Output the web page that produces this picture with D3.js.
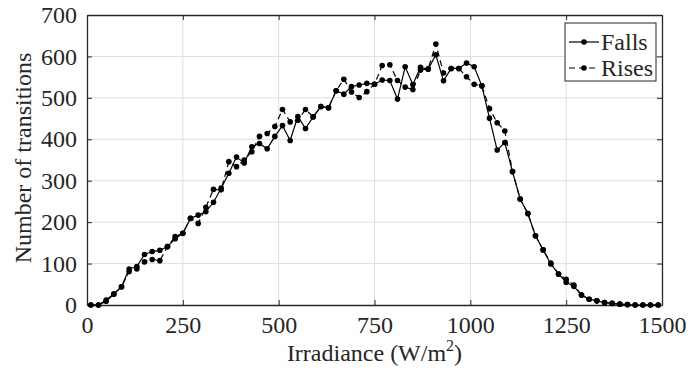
<!DOCTYPE html>
<html>
<head>
<meta charset="utf-8">
<script src="https://cdn.jsdelivr.net/npm/d3@7"></script>
<style>
  body { margin: 0; background: #fff; }
  text { font-family: "Liberation Serif", "Times New Roman", "DejaVu Serif", serif; fill: #262626; }
</style>
</head>
<body>
<div id="chart"></div>
<script>
// bin centres (W/m^2)
const irradiance = d3.range(75).map(i => 10 + i * 20);

const falls = [0, 0, 12, 27, 44, 87, 93, 122, 129, 132,
  141, 160, 173, 209, 217, 225, 248, 282, 318, 357,
  343, 382, 390, 377, 407, 433, 397, 455, 426, 454,
  479, 476, 517, 509, 527, 531, 535, 533, 543, 542,
  497, 575, 532, 574, 569, 604, 541, 571, 571, 584,
  575, 529, 451, 374, 392, 322, 256, 221, 167, 133,
  99, 75, 55, 45, 24, 14, 10, 6, 4, 2,
  1, 0, 0, 0, 0];

const rises = [0, 0, 9, 26, 44, 81, 87, 104, 110, 107,
  141, 165, 173, 209, 197, 236, 279, 278, 346, 334,
  350, 370, 407, 414, 431, 472, 442, 446, 472, 454,
  479, 476, 517, 545, 514, 501, 515, 533, 578, 580,
  542, 526, 520, 567, 570, 630, 560, 571, 571, 551,
  533, 529, 474, 440, 420, 322, 256, 221, 167, 133,
  101, 75, 62, 48, 24, 14, 10, 6, 4, 2,
  1, 0, 0, 0, 0];

const xTicks = [0, 250, 500, 750, 1000, 1250, 1500];
const yTicks = [0, 100, 200, 300, 400, 500, 600, 700];

const width = 692, height = 383;
const margin = {top: 15, right: 30, bottom: 78, left: 87};
const w = width - margin.left - margin.right;
const h = height - margin.top - margin.bottom;

const svg = d3.select("#chart").append("svg")
  .attr("width", width)
  .attr("height", height);

const g = svg.append("g")
  .attr("transform", `translate(${margin.left},${margin.top})`);

const x = d3.scaleLinear().domain([0, 1500]).range([0, w]);
const y = d3.scaleLinear().domain([0, 700]).range([h, 0]);

// grid
g.append("g").selectAll("line").data(xTicks.slice(1, -1)).enter().append("line")
  .attr("x1", d => x(d)).attr("x2", d => x(d))
  .attr("y1", 0).attr("y2", h)
  .style("stroke", "#dedede").style("stroke-width", 1);
g.append("g").selectAll("line").data(yTicks.slice(1, -1)).enter().append("line")
  .attr("x1", 0).attr("x2", w)
  .attr("y1", d => y(d)).attr("y2", d => y(d))
  .style("stroke", "#dedede").style("stroke-width", 1);

// axes, ticks inward
const fs = "24px";
const xAxis = g.append("g")
  .attr("transform", `translate(0,${h})`)
  .call(d3.axisBottom(x).tickValues(xTicks).tickFormat(d3.format("d"))
    .tickSizeInner(-5).tickSizeOuter(0).tickPadding(11));
const yAxis = g.append("g")
  .call(d3.axisLeft(y).tickValues(yTicks).tickFormat(d3.format("d"))
    .tickSizeInner(-5).tickSizeOuter(0).tickPadding(10));
g.append("g")
  .call(d3.axisTop(x).tickValues(xTicks).tickSizeInner(-5).tickSizeOuter(0).tickFormat(""));
g.append("g")
  .attr("transform", `translate(${w},0)`)
  .call(d3.axisRight(y).tickValues(yTicks).tickSizeInner(-5).tickSizeOuter(0).tickFormat(""));

g.selectAll(".domain").style("stroke", "#262626").style("stroke-width", 1.3);
g.selectAll(".tick line").style("stroke", "#262626");
g.selectAll("g").attr("font-family", null);
xAxis.selectAll("text").style("font-size", fs).style("fill", "#262626");
yAxis.selectAll("text").style("font-size", fs).style("fill", "#262626");

// axis labels
const xl = svg.append("text")
  .attr("x", margin.left + w / 2)
  .attr("y", 361)
  .style("text-anchor", "middle")
  .style("font-size", fs);
xl.append("tspan").text("Irradiance (W/m");
xl.append("tspan").attr("dy", -10).style("font-size", "16px").text("2");
xl.append("tspan").attr("dy", 10).text(")");

svg.append("text")
  .attr("transform", "rotate(-90)")
  .attr("x", -(margin.top + h / 2) + 2)
  .attr("y", 31)
  .style("text-anchor", "middle")
  .style("font-size", fs)
  .text("Number of transitions");

// series
const fallsData = irradiance.map((v, i) => ({x: v, y: falls[i]}));
const risesData = irradiance.map((v, i) => ({x: v, y: rises[i]}));

const line = d3.line().x(d => x(d.x)).y(d => y(d.y));

g.append("path")
  .datum(risesData)
  .attr("d", line)
  .style("fill", "none")
  .style("stroke", "#000")
  .style("stroke-width", 1.2)
  .style("stroke-dasharray", "6,4");

g.append("path")
  .datum(fallsData)
  .attr("d", line)
  .style("fill", "none")
  .style("stroke", "#000")
  .style("stroke-width", 1.2);

g.selectAll(".dotR").data(risesData).enter().append("circle")
  .attr("cx", d => x(d.x)).attr("cy", d => y(d.y)).attr("r", 2.8)
  .style("fill", "#000");
g.selectAll(".dotF").data(fallsData).enter().append("circle")
  .attr("cx", d => x(d.x)).attr("cy", d => y(d.y)).attr("r", 2.8)
  .style("fill", "#000");

// legend
const leg = svg.append("g").attr("transform", "translate(565,23)");
leg.append("rect")
  .attr("width", 91).attr("height", 58)
  .style("fill", "#fff").style("stroke", "#262626").style("stroke-width", 1);
const entries = [{name: "Falls", dash: null}, {name: "Rises", dash: "6,4"}];
entries.forEach((e, i) => {
  const cy = 19 + i * 26;
  leg.append("line")
    .attr("x1", 4).attr("x2", 34).attr("y1", cy).attr("y2", cy)
    .style("stroke", "#000").style("stroke-width", 1.2)
    .style("stroke-dasharray", e.dash);
  leg.append("circle").attr("cx", 19).attr("cy", cy).attr("r", 2.8).style("fill", "#000");
  leg.append("text")
    .attr("x", 36).attr("y", cy + 8)
    .style("font-size", fs)
    .text(e.name);
});
</script>
</body>
</html>
